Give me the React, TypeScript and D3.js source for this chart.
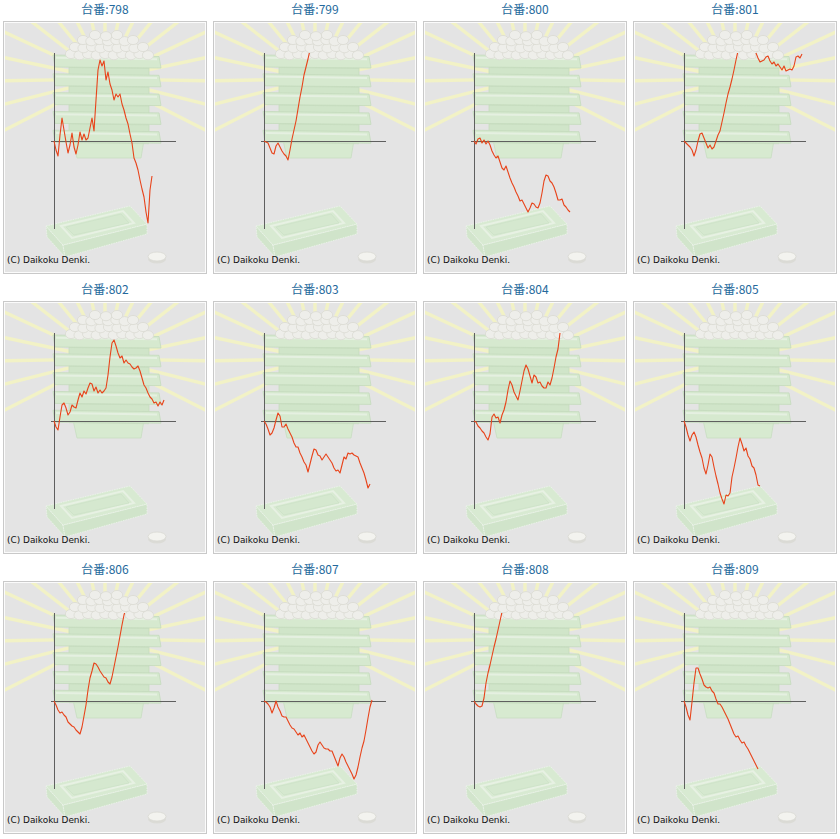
import React from 'react';
import * as d3 from 'd3';

// ---- Data (差枚 per machine, sampled at equal game intervals) ----
const machineIds = ['798', '799', '800', '801', '802', '803', '804', '805', '806', '807', '808', '809'];

const series798 = [0, -450, -750, 300, 1150, 550, -50, -600, -200, 400, -300, -650, -200, 450, 50, 350, 50, 150, 650, 1150, 500, 2050, 3550, 4050, 3750, 4000, 3050, 3450, 2850, 2550, 2050, 2350, 2200, 2350, 1850, 1550, 1150, 850, 350, -100, -850, -1100, -1450, -1950, -2400, -2800, -3550, -4100, -2450, -1750];
const series799 = [0, -50, -100, -350, -600, -650, -250, -100, -300, -500, -650, -750, -950, -450, 100, 550, 1000, 1600, 2200, 2700, 3300, 3700, 4100, 4550];
const series800 = [0, -150, 100, 150, -100, 50, -150, 0, -200, -500, -700, -850, -750, -1050, -1350, -1450, -1250, -1550, -1850, -2100, -2300, -2550, -2750, -3000, -2950, -3150, -3350, -3550, -3350, -3100, -3150, -3300, -3350, -3100, -2600, -2000, -1700, -1750, -2000, -2100, -2300, -2600, -2950, -2950, -2900, -3200, -3300, -3450, -3550];
const series801 = [0, -100, -200, -300, -450, -750, -450, 0, 350, 400, 150, -100, -350, -200, -400, -300, 0, 300, 500, 950, 1400, 1900, 2350, 2700, 3100, 3550, 4050, 4500, 4800, 4950, 5050, 5000, 4900, 4850, 4700, 4550, 4400, 4150, 3950, 4000, 4050, 4200, 4250, 4000, 3850, 3950, 3750, 3850, 3700, 3550, 3750, 3500, 3550, 3600, 3550, 3750, 4200, 4250, 4150, 4350];
const series802 = [0, -300, -450, 200, 800, 900, 650, 300, 450, 800, 700, 650, 1050, 1400, 1200, 1500, 1350, 1650, 1900, 1850, 1500, 1700, 1400, 1550, 1400, 1500, 1650, 2300, 3200, 3900, 4050, 3750, 3400, 3150, 3250, 2900, 3050, 2900, 2850, 2700, 2600, 2650, 2750, 2500, 2150, 1800, 1650, 1400, 1200, 1100, 900, 950, 750, 950, 800, 1050];
const series803 = [0, -150, -400, -700, -600, -350, 50, 400, 250, -300, -300, -150, -400, -600, -800, -1100, -1300, -1300, -1600, -1800, -2050, -2200, -2550, -2150, -1750, -1400, -1450, -1700, -1750, -1950, -1800, -1650, -1800, -1950, -2100, -2350, -2500, -2450, -2600, -2200, -1800, -1900, -1600, -1650, -1600, -1700, -1750, -1800, -2100, -2350, -2600, -2950, -3350, -3150];
const series804 = [0, -50, -250, -350, -500, -600, -800, -950, -650, 200, 350, 150, 200, -100, 300, 550, 950, 1550, 2000, 1800, 1450, 1250, 1050, 1500, 2000, 2500, 2800, 2600, 2250, 1900, 2300, 2200, 1900, 1950, 1750, 1650, 1650, 1950, 1800, 2150, 2650, 3200, 3600, 4400, 4650];
const series805 = [0, -300, -700, -1000, -700, -550, -800, -1200, -1550, -1850, -2350, -2650, -2200, -1650, -1800, -2300, -2750, -3150, -3600, -3900, -4150, -3700, -3750, -3600, -2800, -2350, -1850, -1300, -850, -1150, -1500, -1350, -1750, -1900, -2250, -2350, -2700, -3200, -3250];
const series806 = [0, -200, -450, -600, -550, -700, -800, -1050, -1150, -1250, -1300, -1450, -1550, -1650, -1300, -750, -200, 550, 1150, 1500, 1900, 1850, 1700, 1500, 1350, 1200, 1150, 950, 850, 1200, 1700, 2200, 2700, 3250, 3800, 4300, 4650];
const series807 = [0, -50, -150, -300, -600, -350, 0, -300, -500, -750, -800, -800, -1000, -1200, -1350, -1400, -1550, -1700, -1600, -1800, -1700, -1900, -2100, -2300, -2500, -2650, -2550, -2200, -2050, -2200, -2350, -2400, -2400, -2500, -2500, -2750, -3000, -3250, -2850, -2650, -2800, -3050, -3250, -3450, -3650, -3900, -3700, -3300, -2800, -2350, -2000, -1450, -850, -300, 50];
const series808 = [0, -150, -250, -300, -250, 150, 900, 1400, 1800, 2250, 2700, 3100, 3550, 4000, 4450];
const series809 = [0, -300, -700, -950, -50, 900, 1650, 1650, 1350, 1100, 800, 700, 650, 700, 500, 400, 100, -150, -150, -300, -500, -700, -900, -1150, -1400, -1650, -1800, -1750, -1950, -2100, -2050, -2250, -2400, -2600, -2800, -3000, -3200, -3400];

const seriesList = [series798, series799, series800, series801, series802, series803, series804, series805, series806, series807, series808, series809];

const titlePrefix = '台番:';
const copyright = '(C) Daikoku Denki.';

// ---- Layout ----
const COLS = 4;
const PANEL_W = 204;
const PANEL_H = 253;
const PITCH_X = 210;
const PITCH_Y = 280;
const ORIGIN_X = 3;
const ORIGIN_Y = 21;

const xScale = d3.scaleLinear().domain([0, 61]).range([51, 173]);
const yScale = d3.scaleLinear().domain([-4400, 4400]).range([208, 32]);

const lineGen = d3
  .line<number>()
  .x((_, i) => xScale(i))
  .y((d) => yScale(d));

const RAY_CX = 102;
const RAY_CY = 58;
const rayAngles = d3.range(19).map((k) => -27 + 13 * k);

const ballRows = [
  { y: 33, x0: 68, x1: 145, n: 10 },
  { y: 26, x0: 72, x1: 140, n: 9 },
  { y: 19, x0: 80, x1: 130, n: 7 },
  { y: 14, x0: 92, x1: 114, n: 3 },
];

const bandTops = d3.range(5).map((k) => 34 + 18.8 * k);

function Background() {
  return (
    <g>
      <rect x={0.5} y={0.5} width={PANEL_W - 1} height={PANEL_H - 1} fill="#e4e4e4" stroke="#c9c9c9" />
      <rect x={1.5} y={1.5} width={PANEL_W - 3} height={PANEL_H - 3} fill="none" stroke="#fbfbfb" />
      <g clipPath="url(#innerClip)">
        {rayAngles.map((a, i) => {
          const rad = (a * Math.PI) / 180;
          const r0 = 35;
          const r1 = 230;
          return (
            <line
              key={i}
              x1={RAY_CX + r0 * Math.cos(rad)}
              y1={RAY_CY - r0 * Math.sin(rad)}
              x2={RAY_CX + r1 * Math.cos(rad)}
              y2={RAY_CY - r1 * Math.sin(rad)}
              stroke="#f2f2c6"
              strokeWidth={3.4}
            />
          );
        })}
      </g>
      {/* tray */}
      <g>
        <polygon points="43,205 60,224 62,236 44,216" fill="#d2e5cc" stroke="#eef5ec" strokeWidth={0.8} strokeDasharray="1.5 1" />
        <polygon points="60,224 144,203 144,213 62,236" fill="#d0e4ca" stroke="#eef5ec" strokeWidth={0.8} strokeDasharray="1.5 1" />
        <polygon points="43,205 127,185 144,203 60,224" fill="#d8ead2" stroke="#eef5ec" strokeWidth={0.8} strokeDasharray="1.5 1" />
        <polygon points="58,205 120,190 131,202 69,217" fill="none" stroke="#e7f1e3" strokeWidth={2} />
        <polygon points="63,206 118,193 126,202 71,214" fill="#d5e8cf" stroke="#cadfc4" strokeWidth={0.6} />
      </g>
      {/* coin */}
      <ellipse cx={154} cy={238} rx={9} ry={4.5} fill="#dbdbd6" />
      <ellipse cx={154} cy={235.5} rx={9} ry={4.5} fill="#f3f3ef" stroke="#d6d6d0" strokeWidth={0.7} />
      {/* box stack */}
      <rect x={66} y={34} width={80} height={86} fill="#d0e5c9" stroke="#c6dcbf" strokeWidth={0.8} />
      <polygon points="70,119 141,119 138,137 74,137" fill="#d7ead0" stroke="#c8ddc1" strokeWidth={0.8} />
      {bandTops.map((t, k) => (
        <g key={k}>
          <polygon
            points={`50,${t} 156,${t + 1.5} 158,${t + 13} 52,${t + 12}`}
            fill="#d6e9cf"
            stroke="#c4dbbd"
            strokeWidth={0.8}
          />
          <line x1={53} y1={t + 2.8} x2={154} y2={t + 4.2} stroke="#e5f0e1" strokeWidth={2} />
          <line x1={66} y1={t + 12.5} x2={146} y2={t + 13.5} stroke="#c6dcbf" strokeWidth={0.8} />
        </g>
      ))}
      {/* balls */}
      {ballRows.map((row, ri) =>
        d3.range(row.n).map((j) => {
          const cx = row.x0 + ((row.x1 - row.x0) * j) / Math.max(1, row.n - 1);
          return (
            <ellipse
              key={`${ri}-${j}`}
              cx={cx}
              cy={row.y + (j % 2) * 1.2}
              rx={5.6}
              ry={4.6}
              fill="#eeeeea"
              stroke="#dbdbd3"
              strokeWidth={0.8}
            />
          );
        })
      )}
    </g>
  );
}

function Panel({ id, data, col, row }: { id: string; data: number[]; col: number; row: number }) {
  const px = ORIGIN_X + col * PITCH_X;
  const py = ORIGIN_Y + row * PITCH_Y;
  return (
    <g>
      <text
        x={px + PANEL_W / 2}
        y={py - 7}
        textAnchor="middle"
        fontFamily="'Noto Sans CJK JP', 'Noto Sans', sans-serif"
        fontSize={12}
        fill="#24699c"
      >
        {titlePrefix + id}
      </text>
      <g transform={`translate(${px},${py})`}>
        <Background />
        <line x1={51.5} y1={32} x2={51.5} y2={208} stroke="#5f5f5f" strokeWidth={1} />
        <line x1={48} y1={yScale(0) + 0.5} x2={173} y2={yScale(0) + 0.5} stroke="#5f5f5f" strokeWidth={1} />
        <path d={lineGen(data) || ''} fill="none" stroke="#e8431a" strokeWidth={1.1} clipPath="url(#plotClip)" strokeLinejoin="round" />
        <text x={4} y={241.5} fontFamily="'DejaVu Sans', Verdana, sans-serif" fontSize={8.5} fill="#111" textLength={83} lengthAdjust="spacingAndGlyphs">
          {copyright}
        </text>
      </g>
    </g>
  );
}

export default function App() {
  return (
    <svg
      width={840}
      height={839}
      style={{ position: 'absolute', left: 0, top: 0, background: '#fff' }}
    >
      <defs>
        <clipPath id="plotClip">
          <rect x={0} y={32} width={PANEL_W} height={PANEL_H - 34} />
        </clipPath>
        <clipPath id="innerClip">
          <rect x={2} y={2} width={PANEL_W - 4} height={PANEL_H - 4} />
        </clipPath>
      </defs>
      {machineIds.map((id, i) => (
        <Panel key={id} id={id} data={seriesList[i]} col={i % COLS} row={Math.floor(i / COLS)} />
      ))}
    </svg>
  );
}
